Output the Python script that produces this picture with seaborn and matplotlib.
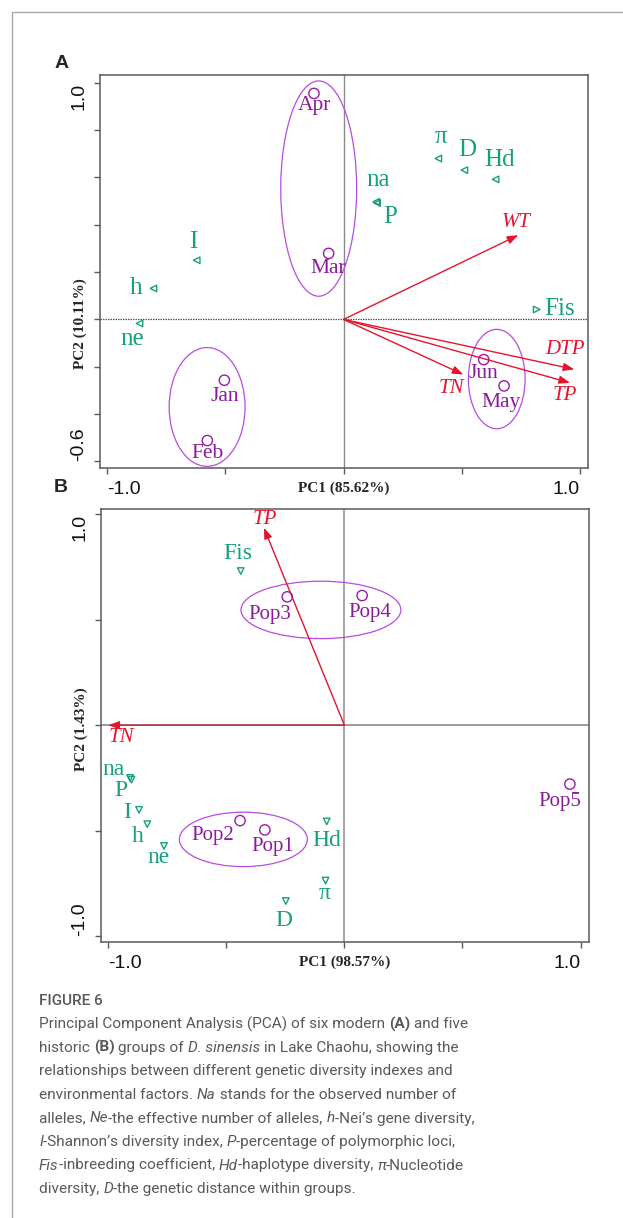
import matplotlib
matplotlib.use("Agg")
import matplotlib.pyplot as plt
from matplotlib.patches import Ellipse
from matplotlib.lines import Line2D
import pandas as pd
import seaborn as sns

# ---------------- data ----------------
# Panel A: six modern monthly groups
a_groups = ["Jan", "Feb", "Mar", "Apr", "May", "Jun"]
a_group_pc1 = [-0.504, -0.576, -0.063, -0.125, 0.679, 0.593]
a_group_pc2 = [-0.257, -0.512, 0.279, 0.955, -0.281, -0.170]

a_index = ["na", "P", "I", "h", "ne", "π", "D", "Hd", "Fis"]
a_index_pc1 = [0.138, 0.142, -0.621, -0.804, -0.863, 0.401, 0.511, 0.643, 0.817]
a_index_pc2 = [0.497, 0.492, 0.250, 0.131, -0.017, 0.680, 0.631, 0.592, 0.042]

a_env = ["WT", "TN", "DTP", "TP"]
a_env_pc1 = [0.739, 0.507, 0.976, 0.958]
a_env_pc2 = [0.356, -0.233, -0.211, -0.268]

# cluster ellipses (centre, full width, full height)
a_clu_cx = [-0.105, -0.577, 0.648]
a_clu_cy = [0.553, -0.370, -0.252]
a_clu_w = [0.321, 0.321, 0.240]
a_clu_h = [0.910, 0.502, 0.420]

# Panel B: five historic populations
b_groups = ["Pop1", "Pop2", "Pop3", "Pop4", "Pop5"]
b_group_pc1 = [-0.337, -0.442, -0.242, 0.075, 0.955]
b_group_pc2 = [-0.496, -0.452, 0.608, 0.614, -0.279]

b_index = ["na", "P", "I", "h", "ne", "Hd", "π", "D", "Fis"]
b_index_pc1 = [-0.908, -0.902, -0.870, -0.835, -0.764, -0.075, -0.080, -0.248, -0.439]
b_index_pc2 = [-0.250, -0.258, -0.401, -0.469, -0.572, -0.456, -0.736, -0.833, 0.730]

b_env = ["TP", "TN"]
b_env_pc1 = [-0.341, -1.0]
b_env_pc2 = [0.935, 0.0]

b_clu_cx = [-0.0995, -0.428]
b_clu_cy = [0.546, -0.541]
b_clu_w = [0.677, 0.542]
b_clu_h = [0.272, 0.258]

# ---------------- style ----------------
W, H, DPI = 623, 1218, 100
PURPLE_PT = "#9a1aa8"
PURPLE_TXT = "#8c1a9c"
PURPLE_ELL = "#b84be0"
GREEN = "#17a07c"
RED = "#e5142e"
SERIF = "Liberation Serif"
SANS = "Liberation Sans"
CAP_FONT = ["Roboto", "DejaVu Sans"]
CAP_COLOR = "#595959"

PX = 72.0 / DPI  # points per pixel

# label offsets in pixels (dx right, dy down)
a_group_off = {"Apr": (0, 12), "Mar": (0, 15), "Jan": (0, 16), "Feb": (0, 13),
               "Jun": (0, 14), "May": (-3, 17)}
a_index_off = {"I": (-3, -18), "h": (-17, 0), "ne": (-7, 16), "na": (2, -22),
               "P": (13, 14), "π": (3, -22), "D": (3, -20), "Hd": (4, -19),
               "Fis": (23, 0)}
a_index_mark = {"Fis": ">"}
a_env_off = {"WT": (-2, -13), "TN": (-12, 14), "DTP": (-9, -20), "TP": (-5, 13)}

b_group_off = {"Pop3": (-17, 18), "Pop4": (8, 17), "Pop2": (-27, 15),
               "Pop1": (8, 17), "Pop5": (-10, 17)}
b_index_off = {"Fis": (-3, -18), "na": (-16, -8), "P": (-11, 11), "I": (-12, 3),
               "h": (-10, 12), "ne": (-5, 12), "Hd": (0, 19), "π": (-1, 13),
               "D": (-2, 19)}
b_env_off = {"TP": (1, -8), "TN": (13, 12)}

sns.set_style("white")
plt.rcParams["font.family"] = [SANS, "DejaVu Sans"]

fig = plt.figure(figsize=(W / DPI, H / DPI), dpi=DPI)


def px_axes(left, top, right, bottom):
    return fig.add_axes([left / W, 1 - bottom / H, (right - left) / W, (bottom - top) / H])


def label(ax, x, y, text, off, color, size, style="normal"):
    ax.annotate(text, xy=(x, y), xytext=(off[0] * PX, -off[1] * PX),
                textcoords="offset points", ha="center", va="center",
                color=color, fontsize=size, family=SERIF, style=style)


def panel(ax, xlim, ylim, yticks, xlabel, ylabel, hline_style,
          grp, gx, gy, goff, gsize,
          idx, ix, iy, ioff, isize, imark_default, imark,
          env, ex, ey, eoff,
          ccx, ccy, cw, ch):
    ax.set_xlim(*xlim)
    ax.set_ylim(*ylim)

    # zero reference lines
    if hline_style == "dotted":
        ax.axhline(0, color="#555555", lw=0.9, ls=(0, (1.2, 0.8)), zorder=1)
        ax.axvline(0, color="#8a8a8a", lw=1.0, zorder=1)
    else:
        ax.axhline(0, color="#9a9a9a", lw=1.4, zorder=1)
        ax.axvline(0, color="#a5a5a5", lw=1.4, zorder=1)

    # cluster ellipses
    for cx, cy, w, h in zip(ccx, ccy, cw, ch):
        ax.add_patch(Ellipse((cx, cy), w, h, fill=False, ec=PURPLE_ELL, lw=0.9, zorder=2))

    # groups (open circles)
    gdf = pd.DataFrame({"pc1": gx, "pc2": gy, "name": grp})
    sns.scatterplot(data=gdf, x="pc1", y="pc2", ax=ax, marker="o", s=55,
                    facecolor="none", edgecolor=PURPLE_PT, linewidth=1.0,
                    legend=False, zorder=4)
    for n, x, y in zip(grp, gx, gy):
        label(ax, x, y, n, goff[n], PURPLE_TXT, gsize)

    # diversity indexes (small open triangles)
    idf = pd.DataFrame({"pc1": ix, "pc2": iy, "name": idx})
    idf["mk"] = [imark.get(n, imark_default) for n in idx]
    for mk, sub in idf.groupby("mk"):
        sns.scatterplot(data=sub, x="pc1", y="pc2", ax=ax, marker=mk, s=22,
                        facecolor="none", edgecolor=GREEN, linewidth=1.0,
                        legend=False, zorder=4)
    for n, x, y in zip(idx, ix, iy):
        label(ax, x, y, n, ioff[n], GREEN, isize)

    # environmental vectors
    for n, x, y in zip(env, ex, ey):
        ax.annotate("", xy=(x, y), xytext=(0, 0),
                    arrowprops=dict(arrowstyle="-|>,head_length=0.65,head_width=0.24",
                                    mutation_scale=10, color=RED, lw=1.0,
                                    shrinkA=0, shrinkB=0), zorder=3)
        label(ax, x, y, n, eoff[n], RED, 15, style="italic")

    # axes frame and ticks
    for sp in ax.spines.values():
        sp.set_color("#5a5a5a")
        sp.set_linewidth(1.1)
    ax.set_xticks([-1.0, -0.5, 0.0, 0.5, 1.0])
    ax.set_xticklabels(["-1.0", "", "", "", "1.0"])
    ax.set_yticks(yticks)
    ylabs = [""] * len(yticks)
    ylabs[0] = f"{yticks[0]:.1f}"
    ylabs[-1] = f"{yticks[-1]:.1f}"
    ax.set_yticklabels(ylabs, rotation=90, va="center")
    ax.tick_params(axis="both", which="major", direction="out", length=4,
                   width=1.0, color="#5a5a5a", labelsize=14, pad=5,
                   left=True, bottom=True, labelcolor="#111111")
    xl = ax.get_xticklabels()
    xl[0].set_ha("left")
    xl[-1].set_ha("right")
    yl = ax.get_yticklabels()
    yl[0].set_va("bottom")
    yl[-1].set_va("top")
    ax.set_xlabel("")
    ax.set_ylabel("")
    ax.annotate(xlabel, xy=(0, 0), xycoords=("data", "axes fraction"),
                xytext=(0, -20 * PX), textcoords="offset points",
                ha="center", va="center", family=SERIF, weight="bold", fontsize=11)
    ax.annotate(ylabel, xy=(0, 0), xycoords=("axes fraction", "data"),
                xytext=(-20 * PX, -4 * PX), textcoords="offset points",
                ha="center", va="center", rotation=90, family=SERIF,
                weight="bold", fontsize=11)


axA = px_axes(100, 75, 588, 468)
panel(axA, (-1.030, 1.034), (-0.628, 1.033),
      [-0.6, -0.4, -0.2, 0.0, 0.2, 0.4, 0.6, 0.8, 1.0],
      "PC1 (85.62%)", "PC2 (10.11%)", "dotted",
      a_groups, a_group_pc1, a_group_pc2, a_group_off, 15.5,
      a_index, a_index_pc1, a_index_pc2, a_index_off, 18, "<", a_index_mark,
      a_env, a_env_pc1, a_env_pc2, a_env_off,
      a_clu_cx, a_clu_cy, a_clu_w, a_clu_h)

axB = px_axes(101, 509, 589, 942)
panel(axB, (-1.031, 1.036), (-1.027, 1.024),
      [-1.0, -0.5, 0.0, 0.5, 1.0],
      "PC1 (98.57%)", "PC2 (1.43%)", "solid",
      b_groups, b_group_pc1, b_group_pc2, b_group_off, 15,
      b_index, b_index_pc1, b_index_pc2, b_index_off, 17, "v", {},
      b_env, b_env_pc1, b_env_pc2, b_env_off,
      b_clu_cx, b_clu_cy, b_clu_w, b_clu_h)

# panel letters
fig.text(55 / W, 1 - 63 / H, "A", fontsize=14, weight="bold", family=SANS,
         ha="left", va="center")
fig.text(54 / W, 1 - 488 / H, "B", fontsize=14, weight="bold", family=SANS,
         ha="left", va="center")

# card border (left and top edges)
fig.add_artist(Line2D([12 / W, 12 / W, 1.0], [0.0, 1 - 11.5 / H, 1 - 11.5 / H],
                      transform=fig.transFigure, color="#a8a8a8", lw=1.0))

# caption with mixed roman / italic / bold runs
renderer = fig.canvas.get_renderer()
CAP_SIZE = 11.1


def text_width(s, **kw):
    t1 = fig.text(0, 0, s + "|", **kw)
    w1 = t1.get_window_extent(renderer=renderer).width
    t1.remove()
    t2 = fig.text(0, 0, "|", **kw)
    w2 = t2.get_window_extent(renderer=renderer).width
    t2.remove()
    return w1 - w2


def draw_runs(x_px, base_px, runs):
    x = x_px
    for s, st in runs:
        kw = dict(fontsize=CAP_SIZE, family=CAP_FONT, color=CAP_COLOR,
                  style="italic" if "i" in st else "normal",
                  weight="bold" if "b" in st else "normal")
        fig.text(x / W, 1 - base_px / H, s, ha="left", va="baseline", **kw)
        x += text_width(s, **kw)


fig.text(39 / W, 1 - 1005 / H, "FIGURE 6", fontsize=11, family=CAP_FONT,
         color=CAP_COLOR, weight="medium", ha="left", va="baseline")

caption = [
    [("Principal Component Analysis (PCA) of six modern ", ""), ("(A)", "b"), (" and five", "")],
    [("historic ", ""), ("(B)", "b"), (" groups of ", ""), ("D. sinensis", "i"),
     (" in Lake Chaohu, showing the", "")],
    [("relationships between different genetic diversity indexes and", "")],
    [("environmental factors. ", ""), ("Na", "i"), (" stands for the observed number of", "")],
    [("alleles, ", ""), ("Ne", "i"), ("-the effective number of alleles, ", ""), ("h", "i"),
     ("-Nei\u2019s gene diversity,", "")],
    [("I", "i"), ("-Shannon\u2019s diversity index, ", ""), ("P", "i"),
     ("-percentage of polymorphic loci,", "")],
    [("Fis", "i"), ("-inbreeding coefficient, ", ""), ("Hd", "i"),
     ("-haplotype diversity, ", ""), ("\u03c0", "i"), ("-Nucleotide", "")],
    [("diversity, ", ""), ("D", "i"), ("-the genetic distance within groups.", "")],
]
for k, runs in enumerate(caption):
    draw_runs(39, 1028.5 + 23.5 * k, runs)

fig.savefig("out.png", dpi=DPI)
